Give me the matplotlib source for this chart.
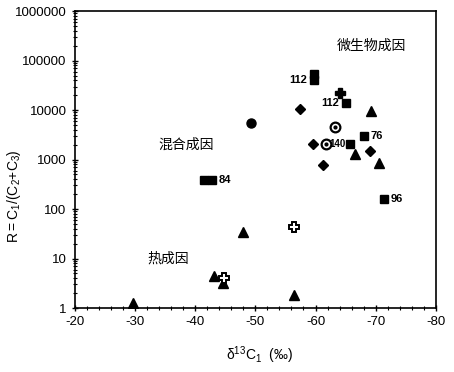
import matplotlib
matplotlib.use("Agg")
import matplotlib.pyplot as plt
from matplotlib.ticker import FixedLocator, FixedFormatter, MultipleLocator, LogLocator, NullFormatter

plt.rcParams['font.family'] = ['Liberation Sans', 'Noto Sans CJK SC', 'DejaVu Sans']

# Data (delta13C1, R)
tri_x = [-29.7, -43.2, -44.7, -48.0, -56.5, -69.2, -66.5, -70.5]
tri_y = [1.25, 4.4, 3.2, 34, 1.8, 9500, 1300, 850]
sq_x = [-41.5, -42.8, -59.7, -59.7, -65.0, -68.0, -65.8, -71.3]
sq_y = [385, 385, 53000, 40000, 13800, 3000, 2050, 160]
dia_x = [-57.5, -59.5, -69.0, -61.2]
dia_y = [10500, 2050, 1500, 780]
circ_x = [-49.3]
circ_y = [5500]
bull_x = [-63.3, -61.7]
bull_y = [4500, 2050]
plus_x = [-64.0]
plus_y = [22000]
oplus_x = [-56.5, -44.8]
oplus_y = [43, 4.0]

labels = ["112", "112", "76", "140", "84", "96"]
label_x = [-59.7, -65.0, -68.0, -61.7, -42.8, -71.3]
label_y = [40000, 13800, 3000, 2050, 385, 160]
label_side = ["left", "left", "right", "right", "right", "right"]

regions = ["微生物成因", "混合成因", "热成因"]
region_x = [-69.3, -38.5, -35.5]
region_y = [200000, 2000, 10]

xticks = [-20, -30, -40, -50, -60, -70, -80]
yticks = [1, 10, 100, 1000, 10000, 100000, 1000000]
ytick_labels = ["1", "10", "100", "1000", "10000", "100000", "1000000"]

fig = plt.figure(figsize=(4.54, 3.72), dpi=100)
ax = fig.add_axes([0.165, 0.172, 0.795, 0.798])
ax.set_yscale('log')
ax.set_xlim(-20, -80)
ax.set_ylim(1, 1000000)

ax.plot(tri_x, tri_y, '^', color='black', ms=6.5, ls='none')
ax.plot(sq_x, sq_y, 's', color='black', ms=6.3, ls='none')
ax.plot(dia_x, dia_y, 'D', color='black', ms=5.2, ls='none')
ax.plot(circ_x, circ_y, 'o', color='black', ms=6.5, ls='none')
ax.plot(bull_x, bull_y, 'o', mfc='white', mec='black', mew=1.6, ms=7, ls='none')
ax.plot(bull_x, bull_y, 'o', color='black', ms=2, ls='none')
ax.plot(plus_x, plus_y, 'P', color='black', ms=7.5, ls='none')
ax.plot(oplus_x, oplus_y, 'P', mfc='white', mec='black', mew=1.4, ms=7.5, ls='none')

for t, x, y, side in zip(labels, label_x, label_y, label_side):
    if t == "140":
        off, fs = 2.5, 7
    else:
        off, fs = (-5 if side == "left" else 5), 8
    ax.annotate(t, (x, y), xytext=(off, 0), textcoords='offset points',
                ha='right' if side == "left" else 'left', va='center',
                fontsize=fs, fontweight='bold', color='black', zorder=5)

for t, x, y in zip(regions, region_x, region_y):
    ax.text(x, y, t, fontsize=10, ha='center', va='center',
            family=['Noto Sans CJK SC', 'DejaVu Sans'], color='black')

ax.xaxis.set_major_locator(FixedLocator(xticks))
ax.set_xticklabels([str(v) for v in xticks])
ax.xaxis.set_minor_locator(MultipleLocator(2))
ax.yaxis.set_major_locator(FixedLocator(yticks))
ax.yaxis.set_major_formatter(FixedFormatter(ytick_labels))
ax.yaxis.set_minor_locator(LogLocator(base=10, subs=range(2, 10), numticks=20))
ax.yaxis.set_minor_formatter(NullFormatter())

ax.tick_params(which='both', top=False, right=False, direction='inout', labelsize=9.5, color='black')
ax.tick_params(which='major', length=5, width=1)
ax.tick_params(which='minor', length=3, width=0.8)
for sp in ax.spines.values():
    sp.set_linewidth(1.2)

ax.set_xlabel(r'$\mathregular{\delta^{13}C_1}$  (‰)', fontsize=10)
ax.set_ylabel(r'$\mathregular{R = C_1/(C_2{+}C_3)}$', fontsize=10)
ax.xaxis.set_label_coords(0.512, -0.122)
ax.yaxis.set_label_coords(-0.144, 0.377)

fig.savefig('out.png', dpi=100)
